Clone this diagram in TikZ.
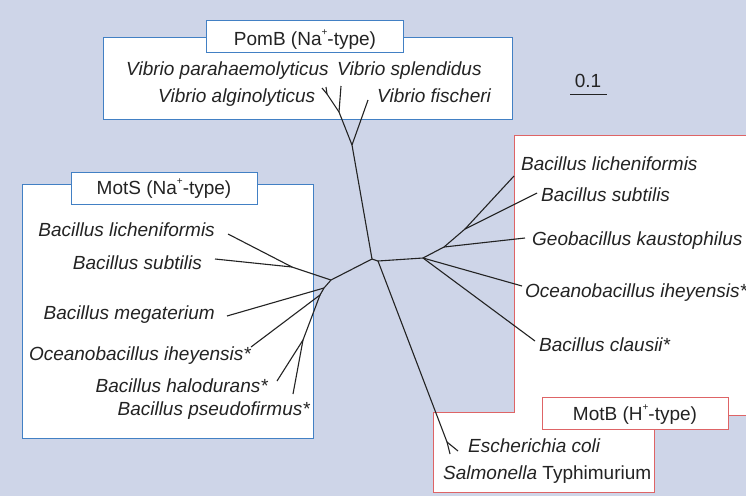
\documentclass[tikz,border=0pt]{standalone}
\usepackage{fontspec}
\setmainfont{Liberation Sans}
\definecolor{bg}{RGB}{206,213,232}
\definecolor{naline}{RGB}{66,128,196}
\definecolor{hline}{RGB}{222,100,102}
\definecolor{ink}{RGB}{35,35,35}
\newcommand{\ionplus}{\raisebox{0.5em}{\fontsize{10}{10}\selectfont+}}

\begin{document}
\begin{tikzpicture}[x=1pt,y=-1pt,
    sp/.style={font=\fontsize{19}{22}\selectfont\itshape,inner sep=0pt,text=ink},
    ttl/.style={font=\fontsize{19}{22}\selectfont,inner sep=0pt,text=ink},
    nabox/.style={draw=naline,fill=white,line width=1pt},
    hbox/.style={draw=hline,fill=white,line width=1pt},
    br/.style={ink,line width=1.1pt}]
	\fill[bg] (0,0) rectangle (746,496);
	\useasboundingbox (0,0) rectangle (746,496);
	% boxes
	\draw[nabox] (103,37) rectangle (512,119);
	\draw[nabox] (22,184) rectangle (313,438);
	\draw[hbox] (514,135) rectangle (760,415);
	\draw[hbox] (433,412) rectangle (654,492);
	\fill[white] (515,136) rectangle (759,414);
	\fill[white] (434,413) rectangle (653,491);
	\draw[nabox] (206,20) rectangle (403,52);
	\draw[nabox] (71,172) rectangle (257,204);
	\draw[hbox] (542,397) rectangle (728,429);
	\node[ttl,anchor=base] (pomb) at (305,45) {PomB (Na\ionplus-type)};
	\node[ttl,anchor=base] (mots) at (164,194) {MotS (Na\ionplus-type)};
	\node[ttl,anchor=base] (motb) at (635,420) {MotB (H\ionplus-type)};
	% scale
	\node[ttl,anchor=base] (scl) at (588,87) {0.1};
	\coordinate (s1) at (570,94);
	\coordinate (s2) at (607,94);
	\draw[ink,line width=1pt] (s1) -- (s2);
	% tree
	\coordinate (r1) at (372,259);
	\coordinate (r2) at (378,261);
	\coordinate (v0) at (352,145);
	\coordinate (v1) at (339,112);
	\coordinate (v2) at (327,94);
	\coordinate (vl1) at (322,88);
	\coordinate (vl2) at (326,87);
	\coordinate (vl3) at (341,86);
	\coordinate (vl4) at (368,100);
	\coordinate (ml) at (331,280);
	\coordinate (mk) at (292,267);
	\coordinate (mm) at (324,288);
	\coordinate (mn) at (320,295);
	\coordinate (mp) at (303,340);
	\coordinate (ml1) at (228,234);
	\coordinate (ml2) at (215,259);
	\coordinate (ml3) at (227,316);
	\coordinate (ml4) at (251,347);
	\coordinate (ml5) at (277,381);
	\coordinate (ml6) at (293,394);
	\coordinate (he) at (423,258);
	\coordinate (hf) at (444,247);
	\coordinate (hg) at (465,229);
	\coordinate (hl1) at (514,176);
	\coordinate (hl2) at (537,193);
	\coordinate (hl3) at (525,238);
	\coordinate (hl4) at (522,286);
	\coordinate (hl5) at (535,341);
	\coordinate (eq) at (447,442);
	\coordinate (el1) at (458,451);
	\coordinate (el2) at (450,454);
	\foreach \a/\b in {r1/r2,r1/v0,v0/v1,v0/vl4,v1/v2,v1/vl3,v2/vl1,v2/vl2,
	    r1/ml,ml/mk,mk/ml1,mk/ml2,ml/mm,mm/ml3,mm/mn,mn/ml4,mn/mp,mp/ml5,mp/ml6,
	    r2/he,he/hf,hf/hg,hg/hl1,hg/hl2,hf/hl3,he/hl4,he/hl5,
	    r2/eq,eq/el1,eq/el2}
	  \draw[br] (\a) -- (\b);
	% labels
	\node[sp,anchor=base west] (vpa) at (126,75) {Vibrio parahaemolyticus};
	\node[sp,anchor=base west] (vsp) at (337,75) {Vibrio splendidus};
	\node[sp,anchor=base west] (val) at (158,102) {Vibrio alginolyticus};
	\node[sp,anchor=base west] (vfi) at (377,102) {Vibrio fischeri};
	\node[sp,anchor=base east] (mbl) at (215,236) {Bacillus licheniformis};
	\node[sp,anchor=base east] (mbs) at (202,269) {Bacillus subtilis};
	\node[sp,anchor=base east] (mbm) at (215,319) {Bacillus megaterium};
	\node[sp,anchor=base east] (moi) at (251,360) {Oceanobacillus iheyensis*};
	\node[sp,anchor=base east] (mbh) at (268,392) {Bacillus halodurans*};
	\node[sp,anchor=base east] (mbp) at (310,415) {Bacillus pseudofirmus*};
	\node[sp,anchor=base west] (hbl) at (521,170) {Bacillus licheniformis};
	\node[sp,anchor=base west] (hbs) at (541,201) {Bacillus subtilis};
	\node[sp,anchor=base west] (hgk) at (532,245) {Geobacillus kaustophilus};
	\node[sp,anchor=base west] (hoi) at (525,297) {Oceanobacillus iheyensis*};
	\node[sp,anchor=base west] (hbc) at (539,351) {Bacillus clausii*};
	\node[sp,anchor=base west] (eco) at (468,452) {Escherichia coli};
	\node[ttl,anchor=base west] (sal) at (443,479) {\textit{Salmonella} Typhimurium};
\end{tikzpicture}
\end{document}
